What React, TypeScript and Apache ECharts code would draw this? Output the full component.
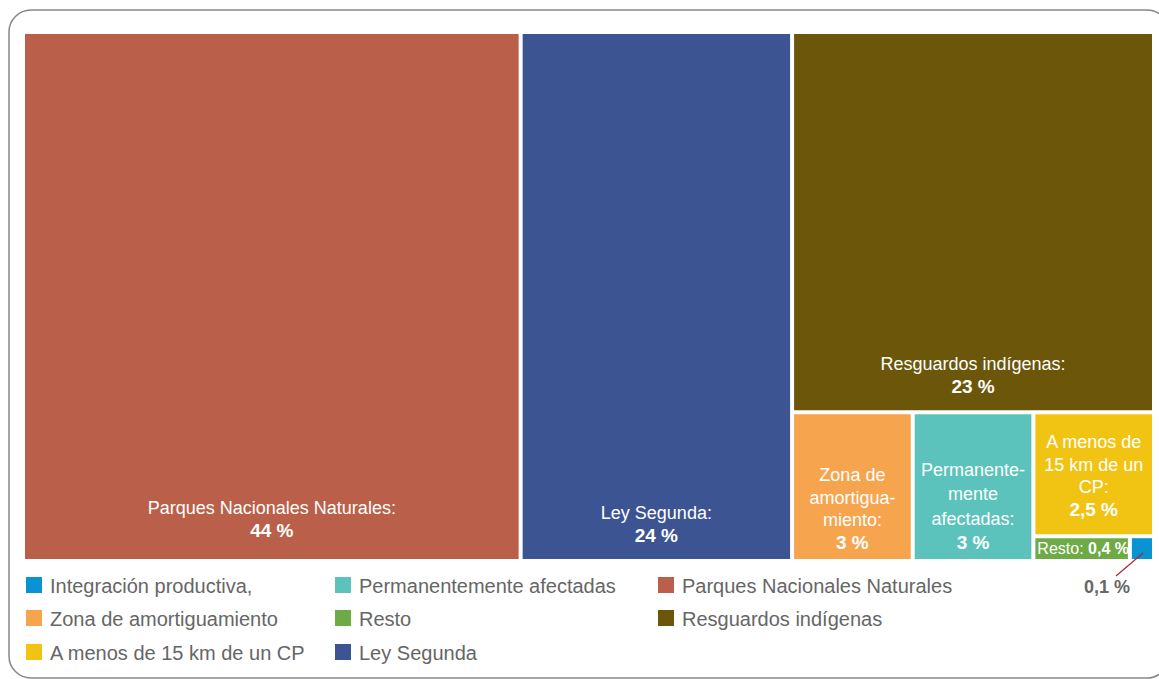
import React, { useEffect, useRef } from "react";
import * as echarts from "echarts";

// ---- data ----
const categories = [
  "Parques Nacionales Naturales",
  "Ley Segunda",
  "Resguardos indígenas",
  "Zona de amortiguamiento",
  "Permanentemente afectadas",
  "A menos de 15 km de un CP",
  "Resto",
  "Integración productiva,",
];
const values = [44, 24, 23, 3, 3, 2.5, 0.4, 0.1];
const boxLabels = [
  "Parques Nacionales Naturales:",
  "Ley Segunda:",
  "Resguardos indígenas:",
  "Zona de\namortigua-\nmiento:",
  "Permanente-\nmente\nafectadas:",
  "A menos de\n15 km de un\nCP:",
  "Resto:",
  "",
];
const colors = ["#BA604A", "#3C5592", "#6C560A", "#F6A54E", "#5BC3BB", "#F1C413", "#6EAB46", "#0A93D3"];

const legendColumns = [
  ["Integración productiva,", "Zona de amortiguamiento", "A menos de 15 km de un CP"],
  ["Permanentemente afectadas", "Resto", "Ley Segunda"],
  ["Parques Nacionales Naturales", "Resguardos indígenas"],
];

const FONT = "'Liberation Sans', Arial, Helvetica, sans-serif";
const LH = 22.5;
// per-box label styling: distance from bottom edge and line height
const bottomGap = [17, 12, 12, 5, 4, 0, 0, 0];
const lineHeights = [LH, LH, LH, LH, 24.3, LH, 17, LH];

function fmt(v: number) {
  return String(v).replace(".", ",") + " %";
}
function labelText(i: number) {
  const lab = boxLabels[i];
  if (i === 6) return lab + " {b|" + fmt(values[i]) + "}";
  return lab + "\n{b|" + fmt(values[i]) + "}";
}
function findIndex(text: string) {
  if (!text) return -1;
  const i = categories.map((_, k) => labelText(k)).indexOf(text);
  if (i >= 0) return i;
  const first = text.split("\n")[0];
  return boxLabels.findIndex((b) => b && first.indexOf(b.split("\n")[0]) === 0);
}

export default function App() {
  const ref = useRef<HTMLDivElement>(null);
  useEffect(() => {
    if (!ref.current) return;
    const chart = echarts.init(ref.current, undefined, { renderer: "svg" });

    const leaf = (i: number, label?: any) => ({
      name: categories[i],
      value: values[i],
      itemStyle: { color: colors[i] },
      ...(label ? { label } : {}),
    });

    const data = [
      leaf(0),
      leaf(1),
      {
        name: "g1",
        value: values[2] + values[3] + values[4] + values[5] + values[6] + values[7],
        children: [
          leaf(2),
          {
            name: "g2",
            value: values[3] + values[4] + values[5] + values[6] + values[7],
            children: [
              leaf(3),
              leaf(4, {
                lineHeight: lineHeights[4],
                rich: { b: { fontWeight: "bold", fontSize: 19, lineHeight: lineHeights[4], color: "#fff", fontFamily: FONT } },
              }),
              {
                name: "g3",
                value: values[5] + values[6] + values[7],
                children: [
                  leaf(5),
                  {
                    name: "g4",
                    value: values[6] + values[7],
                    children: [
                      leaf(6, {
                        fontSize: 16,
                        lineHeight: lineHeights[6],
                        padding: 0,
                        rich: { b: { fontSize: 16, lineHeight: lineHeights[6], fontWeight: "bold", color: "#fff", fontFamily: FONT } },
                      }),
                      leaf(7, { show: false }),
                    ],
                  },
                ],
              },
            ],
          },
        ],
      },
    ];

    const legendGraphics: any[] = [];
    const colX = [26, 335, 658];
    const rowY = [585, 618, 652];
    legendColumns.forEach((col, ci) => {
      col.forEach((name, ri) => {
        const idx = categories.indexOf(name);
        legendGraphics.push({
          type: "rect",
          shape: { x: colX[ci], y: rowY[ri] - 8, width: 16, height: 16 },
          style: { fill: colors[idx] },
        });
        legendGraphics.push({
          type: "text",
          x: colX[ci] + 24,
          y: rowY[ri] + 1,
          style: { text: name, fill: "#666", font: `20px ${FONT}`, textVerticalAlign: "middle" },
        });
      });
    });

    chart.setOption({
      animation: false,
      tooltip: { show: false },
      graphic: [
        {
          type: "rect",
          shape: { x: 9, y: 10, width: 1160, height: 668, r: 22 },
          style: { fill: "none", stroke: "#888", lineWidth: 1.5 },
          z: -10,
        },
        ...legendGraphics,
        {
          type: "line",
          shape: { x1: 1116, y1: 576, x2: 1143, y2: 553 },
          style: { stroke: "#B0262F", lineWidth: 1.2 },
          z: 100,
        },
        {
          type: "text",
          x: 1084,
          y: 587,
          style: { text: fmt(values[7]), fill: "#666", font: `bold 18px ${FONT}`, textVerticalAlign: "middle" },
        },
      ],
      series: [
        {
          type: "treemap",
          left: 25,
          top: 34,
          width: 1127,
          height: 525,
          roam: false,
          nodeClick: false,
          sort: false,
          squareRatio: 1,
          visibleMin: 1,
          breadcrumb: { show: false },
          itemStyle: { gapWidth: 4, borderWidth: 0, borderColor: "#fff" },
          emphasis: { disabled: true },
          label: {
            show: true,
            color: "#fff",
            fontSize: 18,
            lineHeight: LH,
            fontFamily: FONT,
            padding: 0,
            formatter: (p: any) => {
              const i = categories.indexOf(p.name);
              return i < 0 ? "" : labelText(i);
            },
            rich: { b: { fontWeight: "bold", fontSize: 19, lineHeight: LH, color: "#fff", fontFamily: FONT } },
          },
          labelLayout: (p: any) => {
            const i = findIndex(p.text);
            if (i < 0) return {};
            const r = p.rect;
            const n = labelText(i).split("\n").length;
            const h = n * lineHeights[i];
            if (i === 5) {
              return { x: r.x + r.width / 2, y: r.y + (r.height - h) / 2 + 2, align: "center", verticalAlign: "top" };
            }
            if (i === 6) {
              return { x: r.x + 2, y: r.y + (r.height - h) / 2, align: "left", verticalAlign: "top" };
            }
            return { x: r.x + r.width / 2, y: r.y + r.height - bottomGap[i] - h, align: "center", verticalAlign: "top" };
          },
          levels: [0, 1, 2, 3, 4, 5].map(() => ({ itemStyle: { gapWidth: 4, borderWidth: 0, borderColor: "#fff" } })),
          data,
        },
      ],
    });
    return () => chart.dispose();
  }, []);
  return (
    <div style={{ position: "fixed", left: 0, top: 0, width: 1159, height: 679, background: "#fff" }}>
      <div ref={ref} style={{ width: 1159, height: 679 }} />
    </div>
  );
}
